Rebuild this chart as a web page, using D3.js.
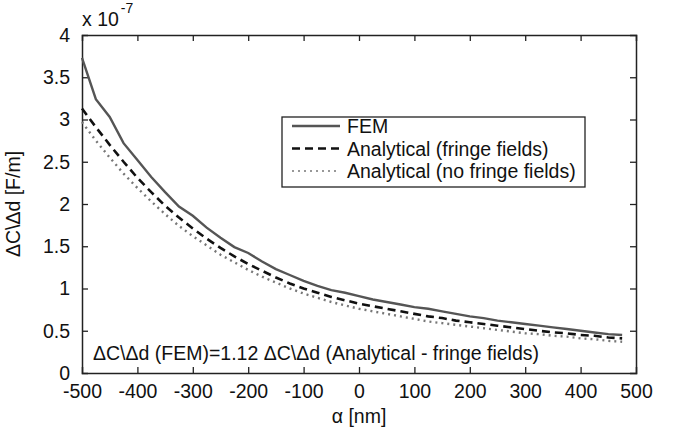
<!DOCTYPE html>
<html>
<head>
<meta charset="utf-8">
<script src="https://cdn.jsdelivr.net/npm/d3@7"></script>
<style>
  body { margin: 0; background: #fff; }
  text { font-family: "Liberation Sans", Arial, sans-serif; fill: #111; }
</style>
</head>
<body>
<div id="chart"></div>
<script>
// alpha values in nm
const alpha = [-500, -475, -450, -425, -400, -375, -350, -325, -300, -275,
  -250, -225, -200, -175, -150, -125, -100, -75, -50, -25,
  0, 25, 50, 75, 100, 125, 150, 175, 200, 225,
  250, 275, 300, 325, 350, 375, 400, 425, 450, 475];

// dC/dd in units of 1e-7 F/m
const fem = [3.73, 3.24, 3.03, 2.72, 2.52, 2.32, 2.14, 1.97, 1.86, 1.72,
  1.60, 1.49, 1.42, 1.32, 1.23, 1.16, 1.09, 1.03, 0.98, 0.95,
  0.91, 0.87, 0.84, 0.81, 0.78, 0.76, 0.73, 0.70, 0.67, 0.65,
  0.62, 0.60, 0.58, 0.56, 0.54, 0.52, 0.50, 0.48, 0.46, 0.45];

const withFringe = [3.13, 2.91, 2.70, 2.50, 2.31, 2.14, 1.98, 1.84, 1.71, 1.59,
  1.48, 1.38, 1.29, 1.21, 1.13, 1.06, 1.00, 0.95, 0.90, 0.86,
  0.82, 0.79, 0.76, 0.73, 0.70, 0.67, 0.65, 0.62, 0.60, 0.58,
  0.56, 0.54, 0.52, 0.50, 0.48, 0.47, 0.45, 0.44, 0.42, 0.41];

const noFringe = [2.97, 2.75, 2.55, 2.36, 2.19, 2.03, 1.88, 1.74, 1.62, 1.51,
  1.40, 1.31, 1.22, 1.14, 1.07, 1.00, 0.94, 0.89, 0.84, 0.80,
  0.76, 0.73, 0.70, 0.67, 0.64, 0.61, 0.59, 0.57, 0.55, 0.53,
  0.51, 0.49, 0.47, 0.46, 0.44, 0.43, 0.41, 0.40, 0.38, 0.37];

const xTicks = [-500, -400, -300, -200, -100, 0, 100, 200, 300, 400, 500];
const yTicks = [0, 0.5, 1, 1.5, 2, 2.5, 3, 3.5, 4];

const seriesNames = ["FEM", "Analytical (fringe fields)", "Analytical (no fringe fields)"];

(function () {
  const margin = { top: 35, right: 45, bottom: 64, left: 82 };
  const width = 681 - margin.left - margin.right;
  const height = 437 - margin.top - margin.bottom;
  const fs = "19.5px";

  const svg = d3.select("#chart")
    .append("svg")
    .attr("width", 681)
    .attr("height", 437)
    .append("g")
    .attr("transform", "translate(" + margin.left + "," + margin.top + ")");

  const x = d3.scaleLinear().domain([-500, 500]).range([0, width]);
  const y = d3.scaleLinear().domain([0, 4]).range([height, 0]);

  // inward ticks on all four sides, like matlab
  const tickLen = -6;
  const bottomAxis = svg.append("g")
    .attr("transform", "translate(0," + height + ")")
    .call(d3.axisBottom(x).tickValues(xTicks).tickSize(tickLen).tickPadding(11).tickFormat(d => String(d)));
  const topAxis = svg.append("g")
    .call(d3.axisTop(x).tickValues(xTicks).tickSize(tickLen).tickFormat(""));
  const leftAxis = svg.append("g")
    .call(d3.axisLeft(y).tickValues(yTicks).tickSize(tickLen).tickPadding(12).tickFormat(d => String(d)));
  const rightAxis = svg.append("g")
    .attr("transform", "translate(" + width + ",0)")
    .call(d3.axisRight(y).tickValues(yTicks).tickSize(tickLen).tickFormat(""));

  [bottomAxis, topAxis, leftAxis, rightAxis].forEach(a => {
    a.select(".domain").attr("stroke", "#222").attr("stroke-width", 1.5);
    a.selectAll(".tick line").attr("stroke", "#222").attr("stroke-width", 1.3);
    a.selectAll(".tick text").attr("font-size", fs).attr("fill", "#111")
      .attr("font-family", "Liberation Sans, Arial, sans-serif");
  });
  // hide the end ticks that fall on the box corners
  bottomAxis.selectAll(".tick line").filter(d => d === -500 || d === 500).remove();
  topAxis.selectAll(".tick line").filter(d => d === -500 || d === 500).remove();
  leftAxis.selectAll(".tick line").filter(d => d === 0 || d === 4).remove();
  rightAxis.selectAll(".tick line").filter(d => d === 0 || d === 4).remove();

  // exponent label
  const expo = svg.append("text")
    .attr("x", 0)
    .attr("y", -9)
    .attr("font-size", fs);
  expo.append("tspan").text("x 10");
  expo.append("tspan").attr("font-size", "14px").attr("dy", -13).attr("dx", 2).text("-7");

  const rows = alpha.map((a, i) => ({ a: a, fem: fem[i], wf: withFringe[i], nf: noFringe[i] }));

  const lineFem = d3.line().x(d => x(d.a)).y(d => y(d.fem));
  const lineWf = d3.line().x(d => x(d.a)).y(d => y(d.wf));
  const lineNf = d3.line().x(d => x(d.a)).y(d => y(d.nf));

  const styles = [
    { stroke: "#555", width: 2.4, dash: null },
    { stroke: "#111", width: 2.6, dash: "8,5" },
    { stroke: "#777", width: 2.4, dash: "2,4" }
  ];

  svg.append("path").datum(rows).attr("d", lineNf)
    .attr("fill", "none").attr("stroke", styles[2].stroke)
    .attr("stroke-width", styles[2].width).attr("stroke-dasharray", styles[2].dash);
  svg.append("path").datum(rows).attr("d", lineWf)
    .attr("fill", "none").attr("stroke", styles[1].stroke)
    .attr("stroke-width", styles[1].width).attr("stroke-dasharray", styles[1].dash);
  svg.append("path").datum(rows).attr("d", lineFem)
    .attr("fill", "none").attr("stroke", styles[0].stroke)
    .attr("stroke-width", styles[0].width);

  // legend box
  const legend = svg.append("g").attr("transform", "translate(200,82)");
  legend.append("rect")
    .attr("width", 303).attr("height", 70)
    .attr("fill", "#fff").attr("stroke", "#222").attr("stroke-width", 1.3);
  seriesNames.forEach((name, i) => {
    const ly = 9 + i * 22.5;
    legend.append("line")
      .attr("x1", 10).attr("x2", 58).attr("y1", ly).attr("y2", ly)
      .attr("stroke", styles[i].stroke).attr("stroke-width", i === 2 ? 1.6 : 2.4)
      .attr("stroke-dasharray", styles[i].dash);
    legend.append("text")
      .attr("x", 65).attr("y", ly + 7)
      .attr("font-size", fs)
      .text(name);
  });

  // annotation
  svg.append("text")
    .attr("x", 11)
    .attr("y", height - 13)
    .attr("font-size", fs)
    .text("ΔC\\Δd (FEM)=1.12 ΔC\\Δd (Analytical - fringe fields)");

  // axis titles
  svg.append("text")
    .attr("x", width / 2)
    .attr("y", height + 50)
    .attr("text-anchor", "middle")
    .attr("font-size", fs)
    .text("α [nm]");

  svg.append("text")
    .attr("transform", "translate(-62," + (height / 2) + ") rotate(-90)")
    .attr("text-anchor", "middle")
    .attr("font-size", fs)
    .text("ΔC\\Δd [F/m]");
})();
</script>
</body>
</html>
